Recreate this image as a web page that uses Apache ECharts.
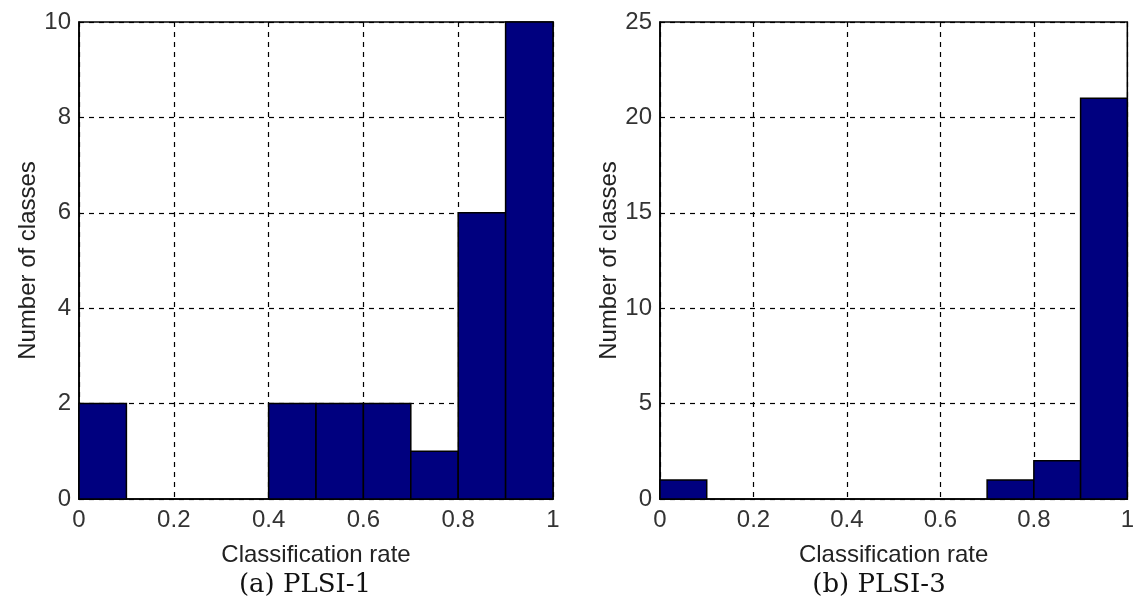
<!DOCTYPE html>
<html>
<head>
<meta charset="utf-8">
<script src="https://cdn.jsdelivr.net/npm/echarts@6/dist/echarts.min.js"></script>
<style>
    html, body { margin: 0; padding: 0; background: #fff; }
    #chart { width: 1137px; height: 608px; }
</style>
</head>
<body>
<div id="chart"></div>
<script>
// bin edges shared by both histograms (10 bins of width 0.1)
let binStarts = [0, 0.1, 0.2, 0.3, 0.4, 0.5, 0.6, 0.7, 0.8, 0.9];
let binWidth = 0.1;
let countsPlsi1 = [2, 0, 0, 0, 2, 2, 2, 1, 6, 10];
let countsPlsi3 = [1, 0, 0, 0, 0, 0, 0, 1, 2, 21];
let xTicks = [0, 0.2, 0.4, 0.6, 0.8, 1];
let captions = ['(a) PLSI-1', '(b) PLSI-3'];

let tickFont = 'Liberation Sans';

function histData(counts) {
    let out = [];
    counts.forEach((c, i) => {
        if (c > 0) {
            out.push([binStarts[i], binStarts[i] + binWidth, c]);
        }
    });
    return out;
}

function renderBin(params, api) {
    let p0 = api.coord([api.value(0), 0]);
    let p1 = api.coord([api.value(1), api.value(2)]);
    return {
        type: 'rect',
        shape: {x: p0[0], y: p1[1], width: p1[0] - p0[0], height: p0[1] - p1[1]},
        style: {fill: '#00007f', stroke: '#000', lineWidth: 1.5}
    };
}

function xAxisFor(idx) {
    return {
        gridIndex: idx,
        type: 'value',
        min: 0,
        max: 1,
        interval: 0.2,
        name: 'Classification rate',
        nameLocation: 'middle',
        nameGap: 44,
        nameTextStyle: {fontFamily: tickFont, fontSize: 24, color: '#222'},
        axisLine: {show: true, onZero: false, lineStyle: {color: '#000', width: 1.5}},
        axisTick: {show: false},
        axisLabel: {
            fontFamily: tickFont, fontSize: 24, color: '#333', margin: 9,
            formatter: v => xTicks.indexOf(v) >= 0 ? String(v) : ''
        },
        splitLine: {show: true, lineStyle: {color: '#000', type: [5, 5], width: 1.2}}
    };
}

function yAxisFor(idx, max, interval) {
    return {
        gridIndex: idx,
        type: 'value',
        min: 0,
        max: max,
        interval: interval,
        name: 'Number of classes',
        nameLocation: 'middle',
        nameGap: 39,
        nameTextStyle: {fontFamily: tickFont, fontSize: 24, color: '#222'},
        axisLine: {show: true, lineStyle: {color: '#000', width: 1.5}},
        axisTick: {show: false},
        axisLabel: {fontFamily: tickFont, fontSize: 24, color: '#333', margin: 8},
        splitLine: {show: true, lineStyle: {color: '#000', type: [5, 5], width: 1.2}}
    };
}

let myChart = echarts.init(document.getElementById('chart'), null, {renderer: 'canvas'});
let option = {
    backgroundColor: '#fff',
    animation: false,
    title: [
        {text: captions[0], left: 300, top: 567, textAlign: 'center',
            textStyle: {fontFamily: 'DejaVu Serif', fontSize: 26, fontWeight: 'normal', color: '#111'}},
        {text: captions[1], left: 874, top: 567, textAlign: 'center',
            textStyle: {fontFamily: 'DejaVu Serif', fontSize: 26, fontWeight: 'normal', color: '#111'}}
    ],
    grid: [
        {left: 79, right: 584, top: 22, bottom: 109, show: true, borderColor: '#000', borderWidth: 1.5},
        {left: 660, right: 5, top: 22, bottom: 109, show: true, borderColor: '#000', borderWidth: 1.5}
    ],
    xAxis: [xAxisFor(0), xAxisFor(1)],
    yAxis: [yAxisFor(0, 10, 2), yAxisFor(1, 25, 5)],
    series: [
        {
            type: 'custom',
            xAxisIndex: 0,
            yAxisIndex: 0,
            renderItem: renderBin,
            encode: {x: [0, 1], y: 2},
            data: histData(countsPlsi1),
            z: 5
        },
        {
            type: 'custom',
            xAxisIndex: 1,
            yAxisIndex: 1,
            renderItem: renderBin,
            encode: {x: [0, 1], y: 2},
            data: histData(countsPlsi3),
            z: 5
        }
    ]
};
myChart.setOption(option);
</script>
</body>
</html>
